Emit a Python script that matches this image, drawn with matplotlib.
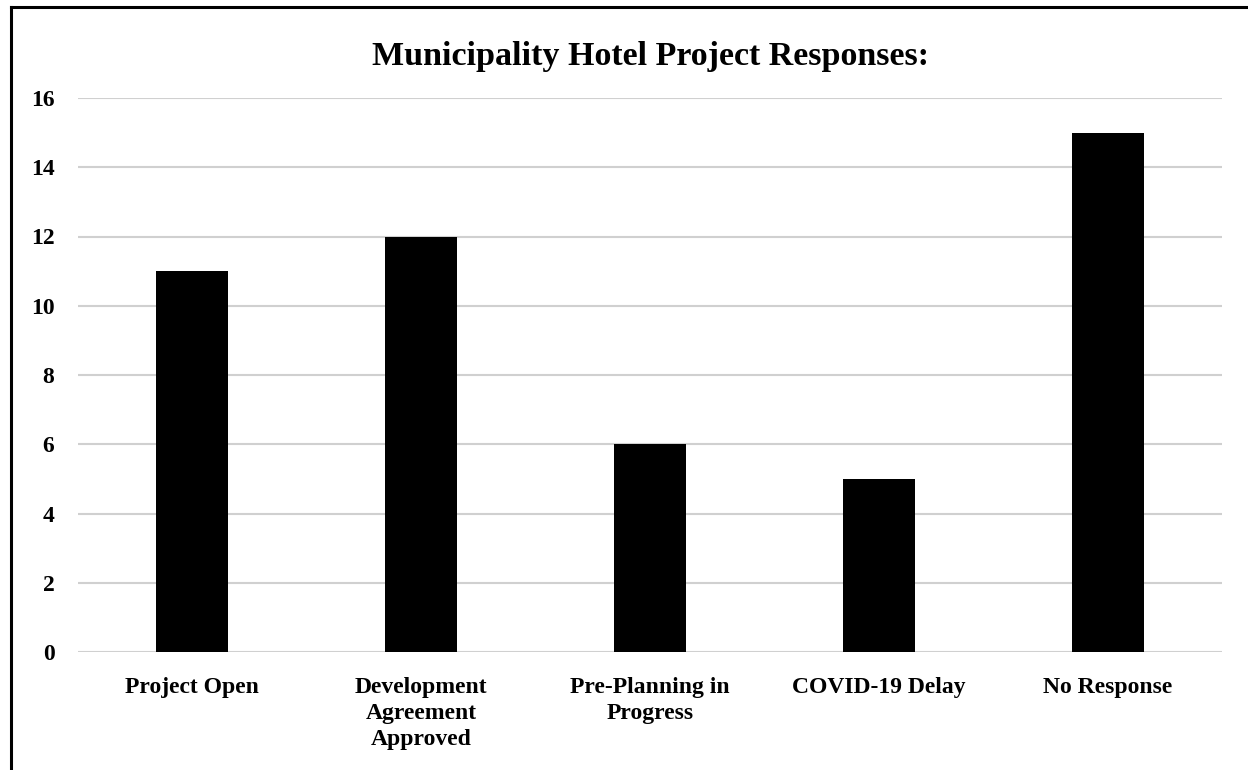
import matplotlib.pyplot as plt
from matplotlib.lines import Line2D

categories = ["Project Open", "Development\nAgreement\nApproved", "Pre-Planning in\nProgress",
              "COVID-19 Delay", "No Response"]
counts = [11, 12, 6, 5, 15]
yticks = [0, 2, 4, 6, 8, 10, 12, 14, 16]

plt.rcParams['font.family'] = ['Liberation Serif', 'DejaVu Serif']
plt.rcParams['font.weight'] = 'bold'

fig = plt.figure(figsize=(12.48, 7.7), dpi=100)
fig.patch.set_facecolor('white')
ax = fig.add_axes([78/1248, 1-652/770, (1222-78)/1248, (652-98)/770])

x = range(len(categories))
ax.bar(x, counts, width=0.315, color='black', zorder=3)
ax.set_xlim(-0.5, len(categories)-0.5)
ax.set_ylim(0, 16)
ax.set_yticks(yticks)
ax.set_xticks(list(x))
ax.set_xticklabels(categories, fontsize=17, fontweight='bold', linespacing=1.32, va='top')
ax.tick_params(axis='both', length=0, labelsize=17)
ax.tick_params(axis='x', pad=18)
ax.tick_params(axis='y', pad=17)
for lab in ax.get_yticklabels():
    lab.set_fontweight('bold')
for s in ax.spines.values():
    s.set_visible(False)
ax.yaxis.grid(True, color='#d0d0d0', linewidth=1.5, zorder=0)
ax.set_axisbelow(True)

fig.text(650/1248, 1-57/770, "Municipality Hotel Project Responses:", ha='center', va='center',
         fontsize=24.5, fontweight='bold')

# outer frame (top and left edges visible)
fig.add_artist(Line2D([11/1248, 11/1248], [0, 1-7/770], color='black', linewidth=2.2,
                      transform=fig.transFigure))
fig.add_artist(Line2D([11/1248, 1], [1-7/770, 1-7/770], color='black', linewidth=2.2,
                      transform=fig.transFigure))

fig.savefig('out.png', dpi=100)
